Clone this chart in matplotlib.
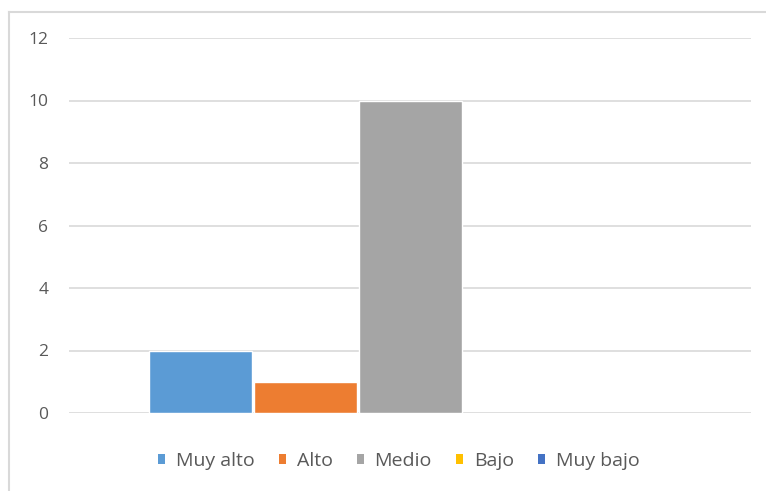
import matplotlib.pyplot as plt
from matplotlib.lines import Line2D
from matplotlib.patches import Patch
import numpy as np

series = ["Muy alto", "Alto", "Medio", "Bajo", "Muy bajo"]
valores = [2, 1, 10, 0, 0]
colores = ["#5B9BD5", "#ED7D31", "#A5A5A5", "#FFC000", "#4472C4"]
yticks = [0, 2, 4, 6, 8, 10, 12]

plt.rcParams["font.family"] = ["Open Sans", "DejaVu Sans"]

W, H = 766, 491
fig = plt.figure(figsize=(W / 100, H / 100), dpi=100)
ax = fig.add_axes([69 / W, 1 - 413 / H, (751 - 69) / W, (413 - 38) / H])

ancho = 103 / 682
n = len(series)
for i, (nom, v, c) in enumerate(zip(series, valores, colores)):
    x = (i - (n - 1) / 2) * 105 / 682
    borde = "white" if v > 0 else "none"
    ax.bar(x, v, width=ancho, color=c, edgecolor=borde, linewidth=1.0, zorder=3)

ax.set_xlim(-0.5, 0.5)
ax.set_ylim(0, 12)
ax.set_yticks(yticks)
ax.set_xticks([])
ax.yaxis.grid(True, color="#D9D9D9", linewidth=1.2, zorder=0)
ax.tick_params(axis="y", length=0, pad=15, labelsize=12.5, labelcolor="#595959")
for s in ax.spines.values():
    s.set_visible(False)

# leyenda inferior
handles = [Patch(facecolor=c, edgecolor="none") for c in colores]
fig.legend(handles, series, loc="center", bbox_to_anchor=(0.5 + 16 / W, 1 - 461 / H),
           ncol=5, frameon=False, fontsize=14, labelcolor="#595959",
           handlelength=0.36, handleheight=0.36, handletextpad=0.55, columnspacing=1.25)

# borde del área del gráfico
fig.add_artist(Line2D([9 / W, 9 / W], [0, 1 - 12 / H], color="#D9D9D9", linewidth=1.5))
fig.add_artist(Line2D([9 / W, 1], [1 - 12 / H, 1 - 12 / H], color="#D9D9D9", linewidth=1.5))

fig.savefig("out.png", dpi=100)
